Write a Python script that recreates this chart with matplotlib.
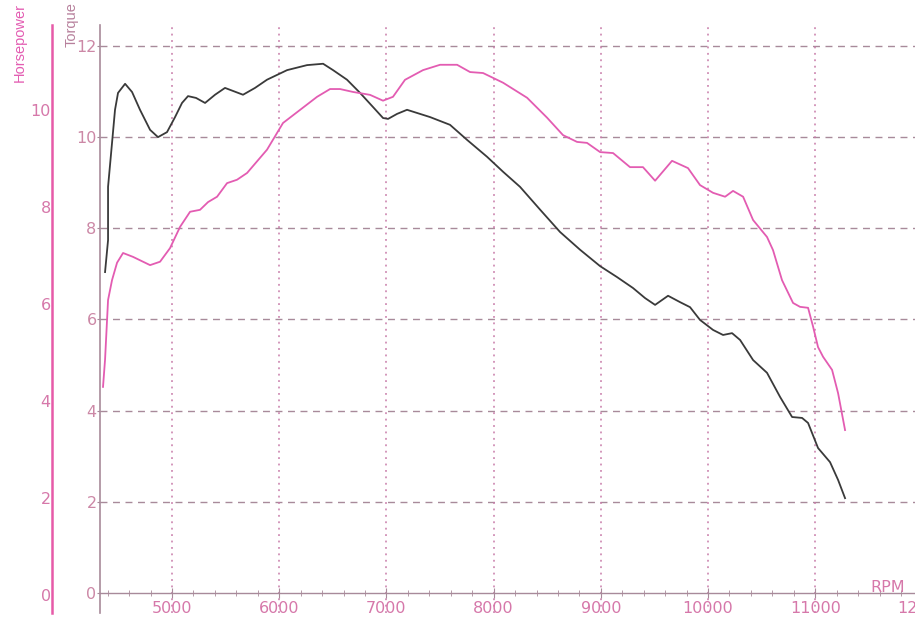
"""Dyno sheet: torque (black) and horsepower (pink) vs RPM, redrawn from a scan."""

import matplotlib

matplotlib.use("Agg")
import matplotlib.pyplot as plt
from matplotlib.ticker import MultipleLocator

# --- data ---------------------------------------------------------------
torque_rpm = [
    4375, 4403, 4403, 4440, 4468, 4496, 4562, 4627, 4701, 4795, 4869, 4953,
    5028, 5093, 5149, 5224, 5308, 5401, 5494, 5662, 5774, 5886, 6073, 6259,
    6409, 6502, 6632, 6754, 6875, 6968, 7015, 7099, 7192, 7407, 7593, 7752,
    7938, 8088, 8246, 8433, 8619, 8806, 8993, 9151, 9300, 9412, 9506, 9627,
    9739, 9832, 9925, 10047, 10140, 10224, 10299, 10420, 10550, 10672, 10784,
    10877, 10933, 11026, 11138, 11213, 11278,
]
torque = [
    7.04, 7.74, 8.91, 9.87, 10.60, 10.97, 11.17, 10.99, 10.60, 10.16, 10.00,
    10.11, 10.44, 10.75, 10.90, 10.86, 10.75, 10.93, 11.08, 10.93, 11.08,
    11.26, 11.47, 11.58, 11.61, 11.47, 11.26, 10.97, 10.66, 10.42, 10.40,
    10.51, 10.60, 10.44, 10.27, 9.94, 9.57, 9.24, 8.91, 8.41, 7.92, 7.53,
    7.17, 6.93, 6.69, 6.47, 6.32, 6.52, 6.38, 6.27, 5.99, 5.77, 5.66, 5.70,
    5.55, 5.11, 4.83, 4.30, 3.86, 3.84, 3.73, 3.18, 2.87, 2.48, 2.08,
]

hp_rpm = [
    4356, 4375, 4403, 4440, 4487, 4543, 4636, 4795, 4888, 4981, 5075, 5168,
    5261, 5336, 5420, 5513, 5606, 5700, 5886, 6035, 6194, 6353, 6474, 6567,
    6688, 6847, 6968, 7061, 7173, 7341, 7500, 7659, 7780, 7901, 8088, 8312,
    8498, 8647, 8778, 8871, 8993, 9114, 9272, 9393, 9506, 9664, 9813, 9925,
    10047, 10159, 10233, 10327, 10420, 10550, 10606, 10690, 10793, 10858,
    10933, 10980, 11026, 11073, 11157, 11213, 11278,
]
horsepower = [
    4.29, 4.85, 6.08, 6.49, 6.85, 7.05, 6.97, 6.80, 6.87, 7.15, 7.59, 7.90,
    7.94, 8.10, 8.21, 8.49, 8.56, 8.70, 9.18, 9.73, 10.00, 10.27, 10.43,
    10.43, 10.37, 10.31, 10.19, 10.27, 10.62, 10.82, 10.93, 10.93, 10.78,
    10.76, 10.56, 10.25, 9.84, 9.48, 9.34, 9.32, 9.13, 9.11, 8.82, 8.82,
    8.54, 8.95, 8.80, 8.45, 8.29, 8.21, 8.33, 8.21, 7.73, 7.38, 7.11, 6.49,
    6.02, 5.94, 5.92, 5.53, 5.11, 4.91, 4.64, 4.16, 3.40,
]

rpm_ticks = [5000, 6000, 7000, 8000, 9000, 10000, 11000, 12000]
torque_ticks = [0, 2, 4, 6, 8, 10, 12]
hp_ticks = [0, 2, 4, 6, 8, 10]

PINK = "#e35cb2"
HP_AXIS = "#e65aa8"
MAUVE = "#a88a9a"
LABEL_PINK = "#d678aa"
CURVE_BLACK = "#3a3a3a"

plt.rcParams["font.family"] = ["DejaVu Sans"]

fig = plt.figure(figsize=(9.15, 6.22), dpi=100)
# the scan is cropped on the right: the 12000 label falls half off the page
ax = fig.add_axes([0.1093, 0.0145, 0.9047, 0.9453])
ax_hp = ax.twinx()

# torque axis (inner)
ax.set_xlim(4328, 12050)
ax.set_ylim(-0.439, 12.46)
ax.plot(torque_rpm, torque, color=CURVE_BLACK, lw=1.3, zorder=4)

for side in ("top", "right"):
    ax.spines[side].set_visible(False)
ax.spines["left"].set_color(MAUVE)
ax.spines["left"].set_linewidth(1.2)
ax.spines["bottom"].set_position(("data", 0))
ax.spines["bottom"].set_color(MAUVE)
ax.spines["bottom"].set_linewidth(1.0)

ax.set_xticks(rpm_ticks)
ax.xaxis.set_minor_locator(MultipleLocator(200))
ax.tick_params(axis="x", which="major", direction="inout", length=7,
               color=MAUVE, labelcolor=LABEL_PINK, labelsize=11.5, pad=2)
ax.tick_params(axis="x", which="minor", direction="inout", length=4, color=MAUVE)

ax.set_yticks(torque_ticks)
ax.tick_params(axis="y", direction="out", length=2, color=MAUVE,
               labelcolor="#cc88a6", labelsize=11.5, pad=0.5)

# grid: dashed horizontals, dotted verticals
for t in torque_ticks[1:]:
    ax.axhline(t, color=MAUVE, lw=1.0, dashes=(5, 4), zorder=1)
for r in rpm_ticks[:-1]:
    ax.axvline(r, color="#c77aa8", lw=1.1, dashes=(1.2, 3), zorder=1)

# horsepower axis (outer, left)
ax_hp.set_ylim(-0.371, 11.75)
ax_hp.plot(hp_rpm, horsepower, color=PINK, lw=1.3, zorder=4)
ax_hp.yaxis.set_ticks_position("left")
ax_hp.yaxis.set_label_position("left")
for side in ("top", "right", "bottom"):
    ax_hp.spines[side].set_visible(False)
ax_hp.spines["left"].set_visible(True)
ax_hp.spines["left"].set_position(("outward", 34.5))
ax_hp.spines["left"].set_color(HP_AXIS)
ax_hp.spines["left"].set_linewidth(1.8)
ax_hp.set_yticks(hp_ticks)
ax_hp.tick_params(axis="y", length=0, labelcolor=LABEL_PINK, labelsize=11.5, pad=1)

# axis titles
fig.text(20 / 915, 1 - 3 / 622, "Horsepower", rotation=90, ha="center", va="top",
         color=PINK, fontsize=10.5, family="Liberation Sans")
fig.text(72 / 915, 1 - 2 / 622, "Torque", rotation=90, ha="center", va="top",
         color="#b7809c", fontsize=10.5, family="Liberation Sans")
fig.text(888 / 915, 1 - 587 / 622, "RPM", ha="center", va="center",
         color=LABEL_PINK, fontsize=11.5)

fig.savefig("out.png", dpi=100, facecolor="white")
